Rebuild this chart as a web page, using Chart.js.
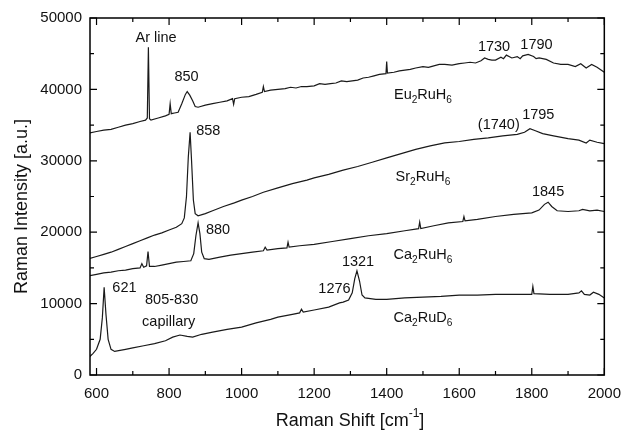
<!DOCTYPE html>
<html>
<head>
<meta charset="utf-8">
<script src="https://cdn.jsdelivr.net/npm/chart.js@4.4.1/dist/chart.umd.min.js"></script>
<style>
  body { margin: 0; background: #fff; }
  #wrap { width: 631px; height: 430px; position: relative; }
</style>
</head>
<body>
<div id="wrap"><canvas id="raman"></canvas></div>
<script>
// Raman shift (cm-1) and intensity for each sample
const euShift = [580,600,620,640,660,680,700,720,735,740,743,746,750,770,790,800,803,806,815,825,835,845,850,857,865,872,880,900,920,940,960,975,978,981,1000,1020,1040,1057,1060,1063,1080,1100,1120,1135,1150,1165,1180,1200,1215,1230,1245,1260,1275,1290,1305,1320,1335,1350,1365,1380,1398,1400,1402,1420,1435,1450,1465,1480,1500,1515,1530,1545,1560,1580,1600,1615,1630,1645,1660,1670,1680,1690,1700,1715,1722,1730,1745,1760,1768,1775,1790,1805,1812,1820,1840,1860,1880,1900,1920,1935,1950,1965,1980,2000];
const euInt   = [33900,34100,34300,34400,34700,35000,35200,35500,35700,36000,45900,35900,35700,36000,36300,36500,38000,36600,36700,36800,38000,39300,39700,39200,38400,37600,37500,37800,38000,38200,38400,38700,37900,38700,38900,39000,39300,39600,40400,39700,39900,40000,40100,40300,40200,40400,40400,40500,40800,40700,40800,40900,41200,41100,41200,41300,41600,41700,41900,42100,42200,43900,42300,42400,42600,42700,42800,43000,43200,43100,43300,43500,43500,43400,43600,43700,43800,43700,44000,44400,44200,44100,44100,44500,44300,44800,44400,44600,44300,44700,44900,44600,44300,44400,44200,43700,43500,43500,43200,43600,43000,43500,43100,42400];

const srShift = [580,600,620,640,660,680,700,720,740,760,780,800,820,835,842,848,853,858,862,867,872,880,900,920,950,980,1000,1030,1060,1100,1140,1180,1200,1240,1280,1320,1360,1400,1440,1480,1520,1560,1600,1640,1680,1720,1760,1780,1795,1810,1830,1860,1900,1930,1950,1960,1980,2000];
const srInt   = [16300,16600,16900,17200,17600,18000,18400,18800,19200,19600,19900,20300,20700,21200,22000,25000,30500,34000,30000,24500,22600,22300,22600,23000,23600,24100,24500,25000,25600,26200,26800,27300,27600,28100,28700,29200,29800,30400,31000,31600,32100,32500,32700,33000,33200,33500,33700,34000,34500,34200,33800,33500,33100,32900,32500,32900,32600,32400];

const caShift = [580,600,620,640,660,680,700,720,725,730,738,742,746,760,780,800,820,840,860,868,874,880,885,890,897,910,940,970,1000,1030,1060,1065,1070,1100,1125,1128,1131,1160,1200,1250,1300,1350,1400,1450,1488,1491,1494,1530,1570,1610,1613,1616,1650,1700,1750,1800,1820,1835,1845,1855,1870,1900,1930,1940,1960,1980,2000];
const caInt   = [13900,14100,14300,14400,14600,14700,14900,15000,15600,15100,15300,17300,15200,15200,15400,15600,15800,15900,16000,17000,19500,21300,19800,17200,16300,16200,16500,16800,17000,17200,17400,17900,17500,17700,17800,18600,17900,18100,18300,18700,19100,19500,19800,20200,20500,21400,20500,20900,21300,21500,22200,21600,21800,22200,22500,22700,23100,23900,24200,23600,23000,22900,23000,23200,23000,23100,22900];

const cdShift = [580,590,600,610,616,621,626,632,640,650,680,700,730,760,790,810,830,850,865,890,920,960,1000,1040,1080,1100,1140,1160,1165,1170,1200,1240,1270,1280,1295,1305,1312,1318,1325,1332,1340,1370,1400,1450,1500,1550,1600,1650,1700,1750,1800,1803,1806,1850,1900,1930,1937,1945,1960,1970,1985,2000];
const cdInt   = [2500,3000,3600,5000,8000,12300,8500,5000,3600,3300,3600,3800,4100,4400,4800,5300,5600,5400,5300,5700,6000,6400,6700,7300,7800,8100,8500,8700,9200,8800,9100,9500,10100,10200,10500,11500,13500,14600,13200,11200,10800,10600,10600,10800,10900,11000,11200,11200,11300,11300,11300,12400,11400,11300,11300,11500,11800,11300,11200,11600,11300,10800];

// tick positions (major ones get a label)
const xTicks = [600,700,800,900,1000,1100,1200,1300,1400,1500,1600,1700,1800,1900,2000];
const yTicks = [0,5000,10000,15000,20000,25000,30000,35000,40000,45000,50000];

// labels written on the plot: text pieces [text, subscript?], shift, intensity
const notes = [
  [[["Ar line", 0]], 764, 47200],
  [[["850", 0]], 848, 41740],
  [[["1730", 0]], 1696, 45940],
  [[["1790", 0]], 1813, 46200],
  [[["Eu", 0], ["2", 1], ["RuH", 0], ["6", 1]], 1500, 39200],
  [[["(1740)", 0]], 1709, 35000],
  [[["1795", 0]], 1818, 36400],
  [[["858", 0]], 908, 34170],
  [[["Sr", 0], ["2", 1], ["RuH", 0], ["6", 1]], 1500, 27730],
  [[["1845", 0]], 1845, 25630],
  [[["880", 0]], 935, 20300],
  [[["Ca", 0], ["2", 1], ["RuH", 0], ["6", 1]], 1500, 16800],
  [[["1321", 0]], 1321, 15830],
  [[["1276", 0]], 1256, 12050],
  [[["621", 0]], 677, 12180],
  [[["805-830", 0]], 807, 10500],
  [[["capillary", 0]], 799, 7420],
  [[["Ca", 0], ["2", 1], ["RuD", 0], ["6", 1]], 1500, 7980],
];

const FONT = "'Liberation Sans', Arial, sans-serif";

const toPoints = (xs, ys) => xs.map((v, i) => ({ x: v, y: ys[i] }));

const line = (label, xs, ys) => ({
  label: label,
  data: toPoints(xs, ys),
  borderColor: "#1a1a1a",
  borderWidth: 1.2,
  pointRadius: 0,
  tension: 0,
  fill: false,
});

//draw pieces with subscripts, centred on x,y
function drawPieces(ctx, pieces, x, y, size) {
  let total = 0;
  pieces.forEach(([t, sub]) => {
    ctx.font = (sub ? size * 0.7 : size) + "px " + FONT;
    total += ctx.measureText(t).width;
  });
  let cx = x - total / 2;
  pieces.forEach(([t, sub]) => {
    ctx.font = (sub ? size * 0.7 : size) + "px " + FONT;
    ctx.fillText(t, cx, sub ? y + size * 0.35 : y);
    cx += ctx.measureText(t).width;
  });
}

const decor = {
  id: "decor",
  afterDatasetsDraw(chart) {
    const ctx = chart.ctx;
    const a = chart.chartArea;
    const xs = chart.scales.x;
    const ys = chart.scales.y;
    ctx.save();
    ctx.strokeStyle = "#000";
    ctx.lineWidth = 1.5;
    ctx.strokeRect(a.left, a.top, a.right - a.left, a.bottom - a.top);
    ctx.lineWidth = 1.2;
    ctx.beginPath();
    //inward ticks on all four sides
    xTicks.forEach((v) => {
      const px = xs.getPixelForValue(v);
      const len = v % 200 === 0 ? 7 : 4;
      ctx.moveTo(px, a.bottom); ctx.lineTo(px, a.bottom - len);
      ctx.moveTo(px, a.top); ctx.lineTo(px, a.top + len);
    });
    yTicks.forEach((v) => {
      const py = ys.getPixelForValue(v);
      const len = v % 10000 === 0 ? 7 : 4;
      ctx.moveTo(a.left, py); ctx.lineTo(a.left + len, py);
      ctx.moveTo(a.right, py); ctx.lineTo(a.right - len, py);
    });
    ctx.stroke();

    ctx.fillStyle = "#111";
    ctx.textAlign = "left";
    ctx.textBaseline = "middle";
    notes.forEach(([pieces, sx, iy]) => {
      drawPieces(ctx, pieces, xs.getPixelForValue(sx), ys.getPixelForValue(iy), 14.5);
    });

    //axis titles
    ctx.font = "18px " + FONT;
    ctx.textAlign = "center";
    ctx.save();
    ctx.translate(22, (a.top + a.bottom) / 2 + 10);
    ctx.rotate(-Math.PI / 2);
    ctx.fillText("Raman Intensity [a.u.]", 0, 0);
    ctx.restore();
    ctx.textAlign = "left";
    const t1 = "Raman Shift [cm";
    ctx.font = "18px " + FONT;
    const w1 = ctx.measureText(t1).width;
    ctx.font = "12px " + FONT;
    const w2 = ctx.measureText("-1").width;
    ctx.font = "18px " + FONT;
    const w3 = ctx.measureText("]").width;
    let sx = 350 - (w1 + w2 + w3) / 2;
    ctx.fillText(t1, sx, 421);
    ctx.font = "12px " + FONT;
    ctx.fillText("-1", sx + w1, 414);
    ctx.font = "18px " + FONT;
    ctx.fillText("]", sx + w1 + w2, 421);
    ctx.restore();
  },
};

new Chart(document.getElementById("raman"), {
  type: "line",
  plugins: [decor],
  data: {
    datasets: [
      line("Eu2RuH6", euShift, euInt),
      line("Sr2RuH6", srShift, srInt),
      line("Ca2RuH6", caShift, caInt),
      line("Ca2RuD6", cdShift, cdInt),
    ],
  },
  options: {
    responsive: true,
    maintainAspectRatio: false,
    animation: false,
    layout: { padding: { left: 0, top: 18, right: 19, bottom: 0 } },
    plugins: { legend: { display: false }, tooltip: { enabled: false } },
    scales: {
      x: {
        type: "linear",
        min: 582,
        max: 2000,
        afterFit: (s) => { s.height = 55; },
        afterBuildTicks: (s) => { s.ticks = xTicks.map((v) => ({ value: v })); },
        grid: { display: false, drawTicks: false },
        border: { display: false },
        ticks: {
          padding: 10,
          color: "#111",
          font: { family: FONT, size: 15 },
          autoSkip: false,
          maxRotation: 0,
          callback: (v) => (v % 200 === 0 ? v : ""),
        },
      },
      y: {
        min: 0,
        max: 50000,
        afterFit: (s) => { s.width = 90; },
        afterBuildTicks: (s) => { s.ticks = yTicks.map((v) => ({ value: v })); },
        grid: { display: false, drawTicks: false },
        border: { display: false },
        ticks: {
          padding: 8,
          color: "#111",
          font: { family: FONT, size: 15 },
          callback: (v) => (v % 10000 === 0 ? v : ""),
        },
      },
    },
  },
});
</script>
</body>
</html>
